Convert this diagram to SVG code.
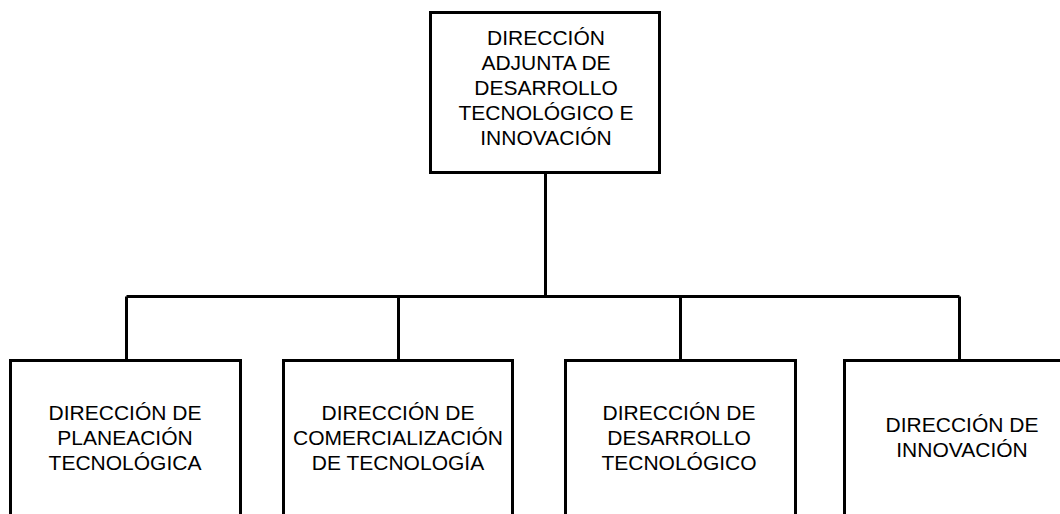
<svg xmlns="http://www.w3.org/2000/svg" width="1060" height="514" viewBox="0 0 1060 514">
<style>
.box{fill:#fff;stroke:#000;stroke-width:3}
.lbl{font-family:"Liberation Sans",Arial,sans-serif;font-size:21px;fill:#000;text-anchor:middle}
.con{fill:none;stroke:#000;stroke-width:3}
</style>
<rect width="1060" height="514" fill="#fff"/>
<g id="connectors">
<path class="con" d="M545.5 172V296.5M126.5 296.5H959.5M126.5 296.5V360M398.5 296.5V360M680.5 296.5V360M959.5 296.5V360"/>
</g>
<g id="n0">
<rect class="box" x="430.5" y="12.5" width="229" height="160"/>
<text class="lbl" x="546" y="45">DIRECCIÓN</text>
<text class="lbl" x="546" y="70">ADJUNTA DE</text>
<text class="lbl" x="546" y="95">DESARROLLO</text>
<text class="lbl" x="546" y="120">TECNOLÓGICO E</text>
<text class="lbl" x="546" y="145">INNOVACIÓN</text>
</g>
<g id="n1">
<rect class="box" x="10.5" y="360.5" width="230" height="170"/>
<text class="lbl" x="125" y="420">DIRECCIÓN DE</text>
<text class="lbl" x="125" y="445">PLANEACIÓN</text>
<text class="lbl" x="125" y="470">TECNOLÓGICA</text>
</g>
<g id="n2">
<rect class="box" x="283.5" y="360.5" width="229" height="170"/>
<text class="lbl" x="398" y="420">DIRECCIÓN DE</text>
<text class="lbl" x="398" y="445">COMERCIALIZACIÓN</text>
<text class="lbl" x="398" y="470">DE TECNOLOGÍA</text>
</g>
<g id="n3">
<rect class="box" x="565.5" y="360.5" width="230" height="170"/>
<text class="lbl" x="679" y="420">DIRECCIÓN DE</text>
<text class="lbl" x="679" y="445">DESARROLLO</text>
<text class="lbl" x="679" y="470">TECNOLÓGICO</text>
</g>
<g id="n4">
<rect class="box" x="844.5" y="360.5" width="230" height="170"/>
<text class="lbl" x="962" y="432">DIRECCIÓN DE</text>
<text class="lbl" x="962" y="457">INNOVACIÓN</text>
</g>
</svg>
